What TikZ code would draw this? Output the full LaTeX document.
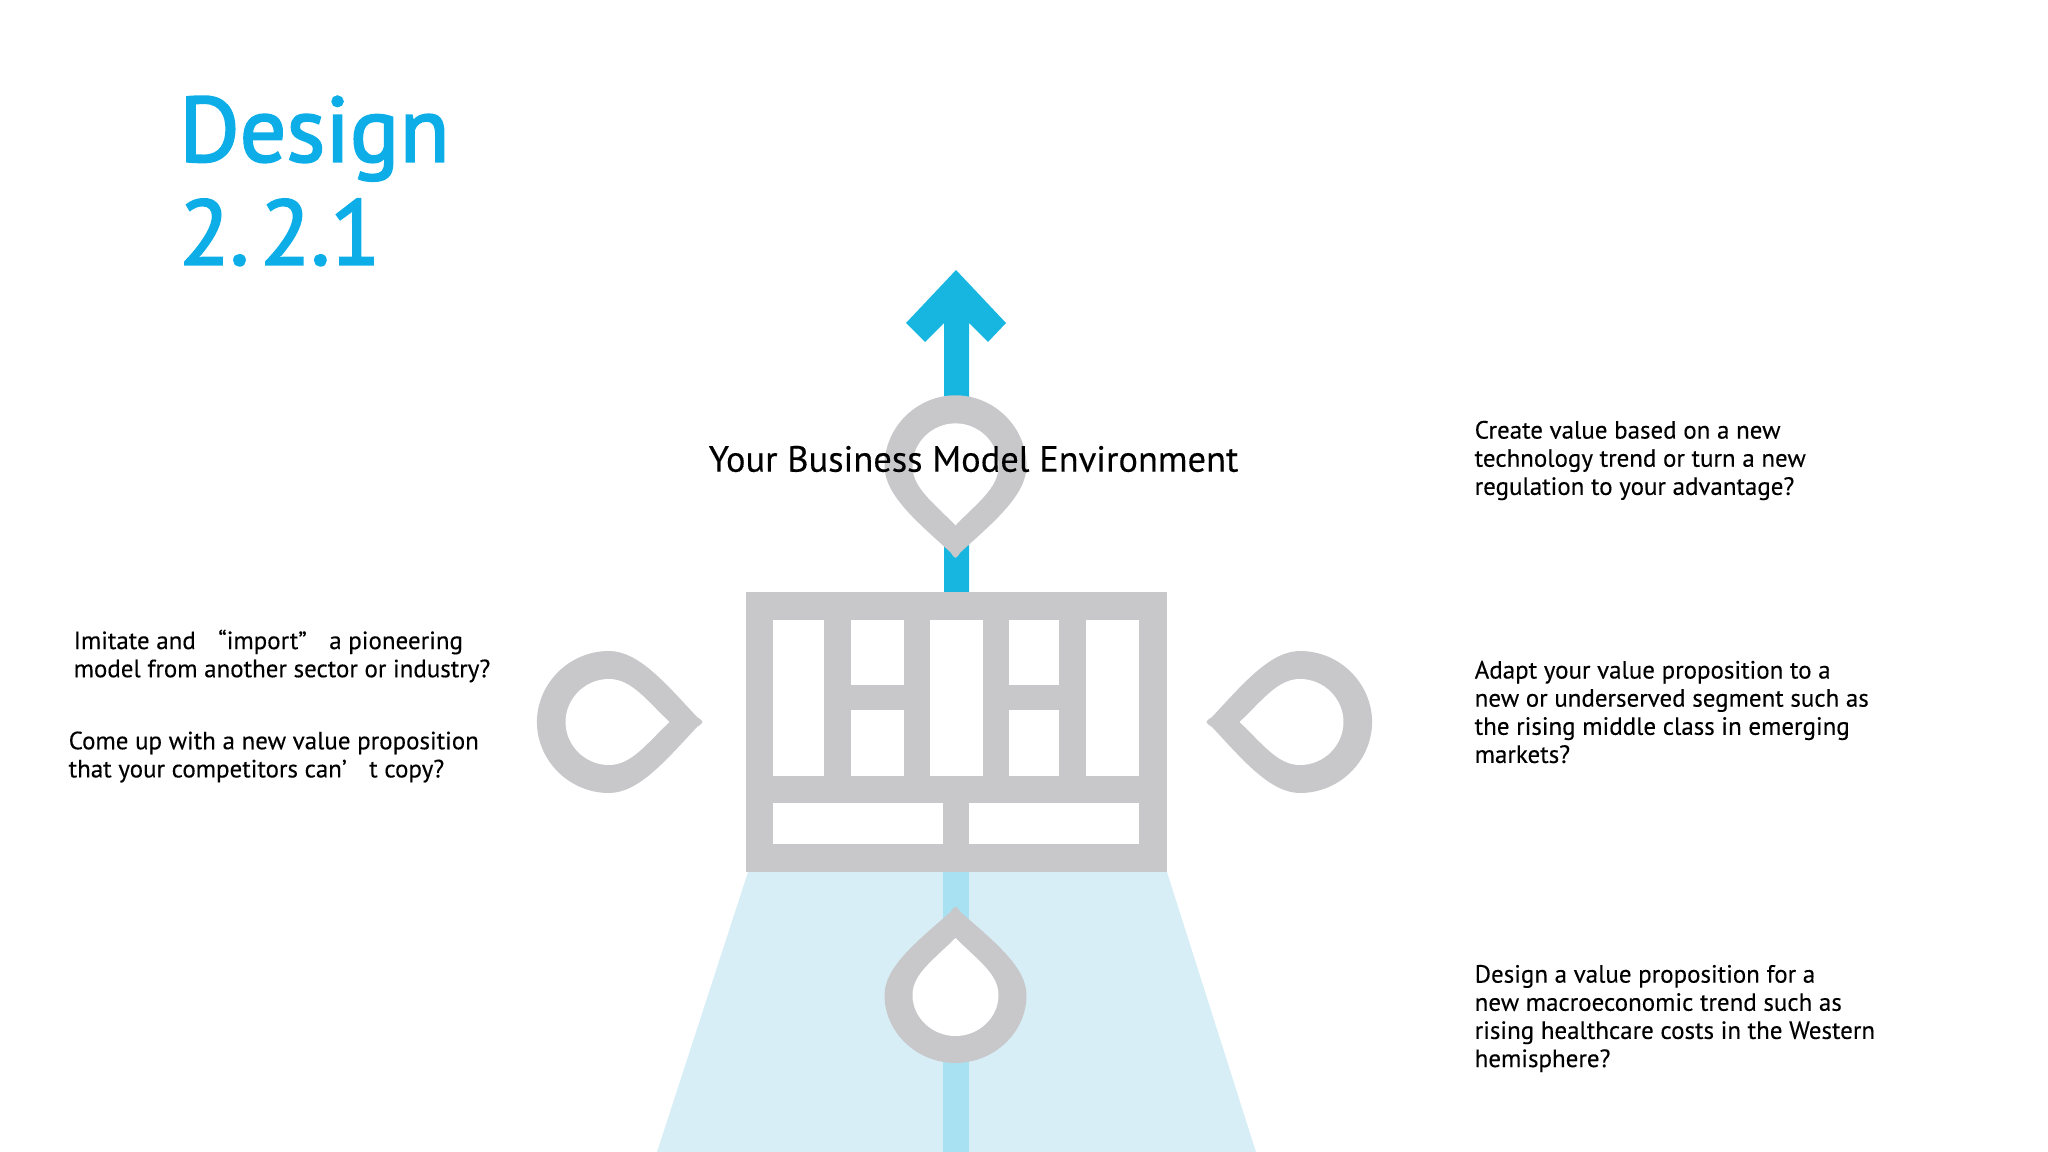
\documentclass[tikz,border=0pt]{standalone}
\usepackage{fontspec}
\setmainfont{PT Sans}
\newfontfamily\headfont[FakeBold=2.2]{PT Sans}
\newfontfamily\bodyfont[FakeBold=0.25]{PT Sans}
\definecolor{cyan}{HTML}{17B6E0}
\definecolor{title}{HTML}{0DAEE8}
\definecolor{paleblue}{HTML}{D8EEF7}
\definecolor{palebar}{HTML}{A8E1F2}
\definecolor{gray}{HTML}{C8C7CA}
\tikzset{
    heading/.style = {
      anchor=west,
      text=title,
      align=left,
      font=\headfont\fontsize{26.2pt}{29.3pt}\selectfont
    },
    question/.style = {
      anchor=west,
      text=black,
      align=left,
      inner sep=0pt,
      font=\bodyfont\fontsize{7.1pt}{8pt}\selectfont
    },
    cell/.style = {
      fill=white
    },
}
% drop shape: centre, rotation, stretch along the tip
\newcommand{\waterdrop}[3]{
  \begin{scope}[shift={#1},rotate=#2,yscale=#3]
    \fill[gray] (-5,-83) .. controls (0,-90) .. (5,-83) .. controls (38,-54) and (71,-28) .. (71,0)
      .. controls (71,38) and (38,68) .. (0,68) .. controls (-38,68) and (-71,38) .. (-71,0)
      .. controls (-71,-28) and (-38,-54) .. (-5,-83) -- cycle;
    \fill[white] (0,-57) .. controls (22,-35) and (43,-21) .. (43,0) .. controls (43,23) and (23,41) .. (0,41)
      .. controls (-23,41) and (-43,23) .. (-43,0) .. controls (-43,-21) and (-22,-35) .. (0,-57) -- cycle;
  \end{scope}
}

\begin{document}
\begin{tikzpicture}[x=0.01cm,y=-0.01cm]
    \useasboundingbox (0,0) rectangle (2048,1152);

    % foot of the diagram
    \fill[paleblue] (748,872) -- (1167,872) -- (1256,1152) -- (657,1152) -- cycle;
    \fill[palebar] (943,872) rectangle (969,1152);

    % arrow
    \fill[cyan] (956,270) -- (1006,323) -- (988,342) -- (969,323) -- (969,592) -- (944,592)
      -- (944,323) -- (925,342) -- (906,323) -- cycle;

    % canvas
    \fill[gray] (746,592) rectangle (1167,872);
    \foreach \xa/\xb in {773/824, 930/983, 1086/1139}
      \fill[cell] (\xa,620) rectangle (\xb,776);
    \foreach \xa/\xb in {851/904, 1009/1059} {
      \fill[cell] (\xa,620) rectangle (\xb,685);
      \fill[cell] (\xa,710) rectangle (\xb,776);
    }
    \fill[cell] (773,803) rectangle (943,844);
    \fill[cell] (969,803) rectangle (1139,844);

    % drops
    \waterdrop{(955.5,466)}{180}{1.04}
    \waterdrop{(955.5,995)}{0}{1}
    \waterdrop{(609,722)}{-90}{1.06}
    \waterdrop{(1300,722)}{90}{1.06}

    % texts
    \node[heading] (DESIGN) at (167,181) {Design\\2.\hspace{0.12em}2.1};
    \node[question, font=\bodyfont\fontsize{10.37pt}{11pt}\selectfont] (ENV) at (708,459) {Your Business Model Environment};

    \node[question] (TECH) at (1474,460.5) {Create value based on a new\\technology trend or turn a new\\regulation to your advantage?};
    \node[question] (SEGMENT) at (1474,712) {Adapt your value proposition to a\\new or underserved segment such as\\the rising middle class in emerging\\markets?};
    \node[question] (MACRO) at (1474,1018.5) {Design a value proposition for a\\new macroeconomic trend such as\\rising healthcare costs in the Western\\hemisphere?};
    \node[question] (IMPORT) at (73,656) {Imitate and\hspace{0.9em}“import”\hspace{0.9em}a pioneering\\model from another sector or industry?};
    \node[question] (COPY) at (68,757) {Come up with a new value proposition\\that your competitors can’\hspace{0.9em}t copy?};
\end{tikzpicture}
\end{document}
